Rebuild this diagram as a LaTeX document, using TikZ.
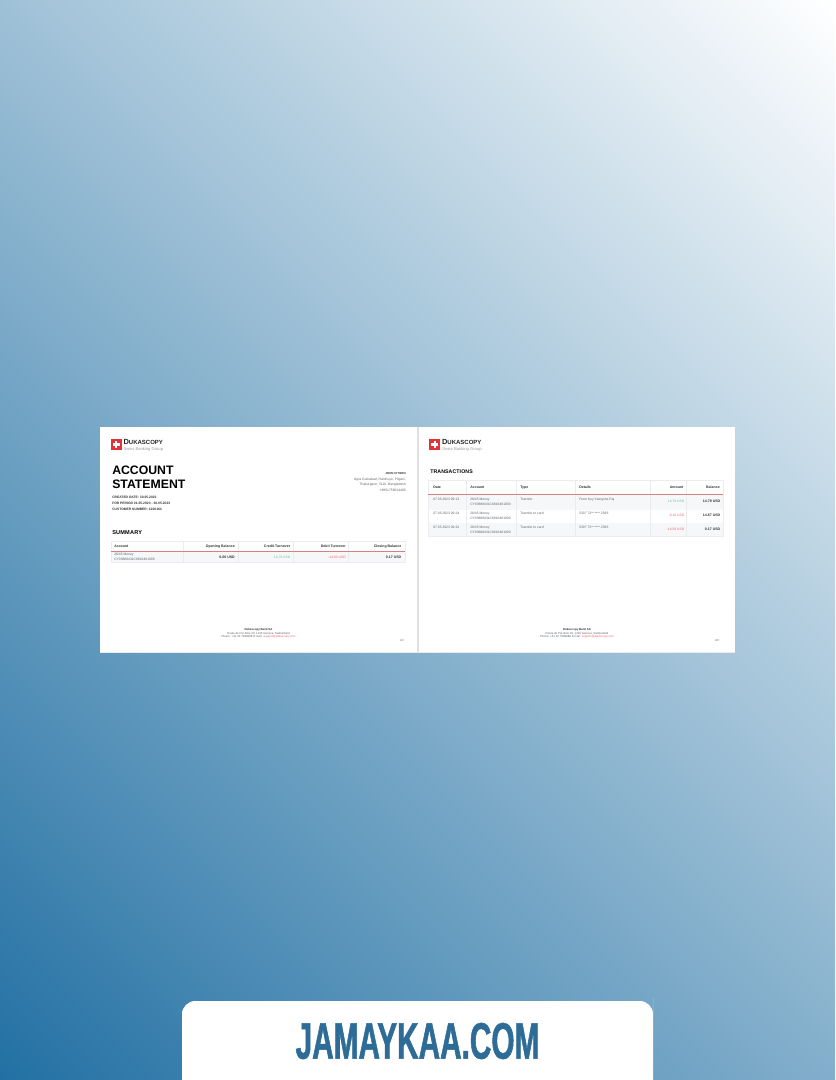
\documentclass[tikz,border=0pt]{standalone}
\usepackage{fontspec}
\setmainfont{Liberation Sans}
\newfontfamily\bannerfont[FakeStretch=0.58,FakeBold=1]{Liberation Sans Bold}
\usetikzlibrary{positioning}
\definecolor{bgdark}{RGB}{34,112,163}
\definecolor{bannerblue}{RGB}{45,108,150}
\definecolor{logored}{RGB}{226,52,56}
\definecolor{redline}{RGB}{214,128,128}
\definecolor{rowgray}{RGB}{245,247,249}
\definecolor{cellline}{RGB}{234,236,240}
\definecolor{darktext}{RGB}{50,50,55}
\definecolor{softtext}{RGB}{95,100,105}
\definecolor{greentext}{RGB}{110,190,160}
\definecolor{redtext}{RGB}{235,100,110}
\tikzset{
	heading/.style={anchor=west, inner sep=0, font=\bfseries\fontsize{9.2}{10}\selectfont, text=black},
	subheading/.style={anchor=west, inner sep=0, font=\bfseries\fontsize{2.5}{3}\selectfont, text=black!80},
	tablehead/.style={inner sep=0, text height=2pt, text depth=.5pt, font=\bfseries\fontsize{2.65}{3.2}\selectfont, text=darktext},
	tablecell/.style={inner sep=0, text height=2pt, text depth=.5pt, font=\fontsize{2.5}{3.4}\selectfont, text=softtext},
	boldcell/.style={inner sep=0, text height=2pt, text depth=.5pt, font=\bfseries\fontsize{2.65}{3.2}\selectfont, text=darktext},
	footer/.style={inner sep=0, font=\fontsize{2.15}{3}\selectfont, text=softtext},
	logoname/.style={anchor=west, inner sep=0, font=\bfseries\fontsize{5.6}{6}\selectfont, text=black!85},
	logosub/.style={anchor=west, inner sep=0, font=\fontsize{3.1}{3.4}\selectfont, text=black!40},
}
\newcommand{\bankhead}[3]{% x of the red square, node prefix
	\fill[logored] (#1,438.7) rectangle ++(11.4,11.6);
	\fill[white] (#1+4.6,441) rectangle ++(2.2,7);
	\fill[white] (#1+2.2,443.4) rectangle ++(7,2.2);
	\node[logoname] (#2name) at (#1+12.8,442.4) {D\fontsize{4.5}{5}\selectfont UKASCOPY};
	\node[logosub] (#2sub) at (#1+12.8,449) {Swiss Banking Group};
	\node[footer, font=\bfseries\fontsize{2.15}{3}\selectfont, text=darktext] (#2bank) at (#3,629.7) {Dukascopy Bank SA};
	\node[footer] (#2addr) at (#3,633.5) {Route de Pré-Bois 20, 1215 Geneva, Switzerland};
	\node[footer] (#2mail) at (#3,637) {Phone: +41 22 7999888 E-mail: \textcolor{redtext}{support@dukascopy.com}};
}
\begin{document}
\begin{tikzpicture}[x=0.75pt, y=-0.75pt]
	\useasboundingbox (0,0) rectangle (835,1080);
	\begin{scope}
		\clip (0,0) rectangle (835,1080);
		\begin{scope}[transform canvas={shift={(417.5,540)}, rotate=45}]
			\shade[left color=bgdark, right color=white] (-677,-800) rectangle (677,800);
		\end{scope}
	\end{scope}

	% the two pages
	\fill[white] (100,427) rectangle (735,652);
	\fill[black!12] (416.5,427) rectangle (419,652);
	\fill[black!8] (100,651.5) rectangle (735,653);

	% left page
	\bankhead{110.5}{left}{258.5}
	\node[heading] (account) at (112,470.5) {ACCOUNT};
	\node[heading] (statement) at (112,484.5) {STATEMENT};
	\node[subheading] (created) at (112,497) {CREATED DATE: 30.05.2023};
	\node[subheading] (period) at (112,503.3) {FOR PERIOD 01.05.2023 - 30.05.2023};
	\node[subheading] (customer) at (112,509.8) {CUSTOMER NUMBER: 1200164};
	\node[tablehead, anchor=east, font=\bfseries\fontsize{2.2}{3}\selectfont] (holder) at (406,473.7) {JOHN CITIZEN};
	\node[footer, anchor=east, font=\fontsize{2.5}{3}\selectfont] (street) at (406,479.3) {Agra Gutirabad, Hamhuye, Pilgani,};
	\node[footer, anchor=east, font=\fontsize{2.5}{3}\selectfont] (city) at (406,485) {Thakurgaon, 5110, Bangladesh};
	\node[footer, anchor=east, font=\fontsize{2.5}{3}\selectfont] (phone) at (406,490.3) {+8801758014480};
	\node[heading, font=\bfseries\fontsize{4.2}{6}\selectfont] (summary) at (112,533) {\addfontfeatures{LetterSpace=3}SUMMARY};

	\fill[rowgray] (111,552) rectangle (405,562);
	\draw[cellline, line width=.4pt] (111,541) rectangle (405,562);
	\foreach \colx in {183,238,293,348}
		\draw[cellline, line width=.4pt] (\colx,541) -- (\colx,562);
	\fill[redline] (111,550.7) rectangle (405,552.3);
	\node[tablehead, anchor=west] (sumaccount) at (114,546) {Account};
	\node[tablehead, anchor=east] (sumopening) at (235,546) {Opening Balance};
	\node[tablehead, anchor=east] (sumcredit) at (290.5,546) {Credit Turnover};
	\node[tablehead, anchor=east] (sumdebit) at (346,546) {Debit Turnover};
	\node[tablehead, anchor=east] (sumclosing) at (401.5,546) {Closing Balance};
	\node[tablecell, anchor=west] (sumname) at (114,554.5) {26/45 Money};
	\node[tablecell, anchor=west] (sumiban) at (114,559.8) {CY03888431C6816401000};
	\node[boldcell, anchor=east] (opening) at (235,557.5) {0.00 USD};
	\node[tablecell, anchor=east, text=greentext] (credit) at (290.5,557.5) {14.79 USD};
	\node[tablecell, anchor=east, text=redtext] (debit) at (346,557.5) {-14.62 USD};
	\node[boldcell, anchor=east] (closing) at (401.5,557.5) {0.17 USD};
	\node[footer] (pageone) at (401.7,640.3) {1/2};

	% right page
	\bankhead{429}{right}{577}
	\node[heading, font=\bfseries\fontsize{3.9}{6}\selectfont] (transactions) at (430,472) {\addfontfeatures{LetterSpace=2}TRANSACTIONS};

	\fill[rowgray] (428,495) rectangle (723,509.5);
	\fill[rowgray] (428,522.7) rectangle (723,536.7);
	\draw[cellline, line width=.4pt] (428,480) rectangle (723,536.7);
	\foreach \colx in {466.7,516.7,575,650,686.7}
		\draw[cellline, line width=.4pt] (\colx,480) -- (\colx,536.7);
	\fill[redline] (428,493.7) rectangle (723,495);
	\node[tablehead, anchor=west] (headdate) at (433,487) {Date};
	\node[tablehead, anchor=west] (headaccount) at (470,487) {Account};
	\node[tablehead, anchor=west] (headtype) at (520,487) {Type};
	\node[tablehead, anchor=west] (headdetails) at (579,487) {Details};
	\node[tablehead, anchor=east] (headamount) at (683.5,487) {Amount};
	\node[tablehead, anchor=east] (headbalance) at (720,487) {Balance};

	\foreach \rowname/\rowy/\when/\kind/\detail/\money/\moneycol/\saldo in {
		a/499.3/07.05.2023 09:13/Transfer/From Key Xiangsha Raj/14.79 USD/greentext/14.79 USD,
		b/513.3/07.05.2023 09:24/Transfer to card/5307 72** **** 2583/-0.10 USD/redtext/14.67 USD,
		c/527/07.05.2023 09:24/Transfer to card/5307 72** **** 2583/-14.50 USD/redtext/0.17 USD}{
		\node[tablecell, anchor=west] (when\rowname) at (433,\rowy) {\when};
		\node[tablecell, anchor=west] (name\rowname) at (470,\rowy) {26/45 Money};
		\node[tablecell, anchor=west] (iban\rowname) at (470,\rowy+5) {CY03888431C6816401000};
		\node[tablecell, anchor=west] (kind\rowname) at (520,\rowy) {\kind};
		\node[tablecell, anchor=west] (detail\rowname) at (579,\rowy) {\detail};
		\node[tablecell, anchor=east, text=\moneycol] (money\rowname) at (684.5,\rowy+2.4) {\money};
		\node[boldcell, anchor=east] (saldo\rowname) at (720.5,\rowy+2.4) {\saldo};
	}
	\node[footer] (pagetwo) at (717,640.3) {2/2};

	% banner
	\fill[white] (182,1080) -- (182,1011) [rounded corners=10] -- (182,1001) -- (653,1001) -- (653,1011) [sharp corners] -- (653,1080) -- cycle;
	\node[inner sep=0, text=bannerblue, font=\bannerfont\fontsize{38.5}{48}\selectfont] (banner) at (417.5,1041) {JAMAYKAA.COM};
\end{tikzpicture}
\end{document}
